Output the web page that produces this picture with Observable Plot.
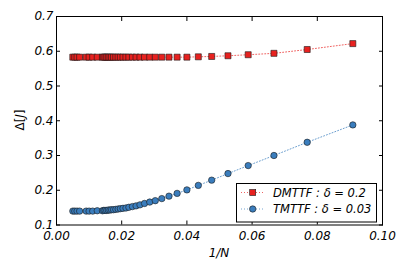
<!DOCTYPE html>
<html><head><meta charset="utf-8">
<script src="https://cdn.jsdelivr.net/npm/d3@7"></script>
<script src="https://cdn.jsdelivr.net/npm/@observablehq/plot@0.6"></script>
<style>body{margin:0;background:#fff}</style>
</head><body><div id="chart"></div>
<script>
// 1/N values (N = 11,13,...,71, 80, 90, 100, 110, 140, 160, 180, 200)
const invN = [0.0909,0.0769,0.0667,0.0588,0.0526,0.0476,0.0435,0.0400,0.0370,0.0345,
  0.0323,0.0303,0.0286,0.0270,0.0256,0.0244,0.0233,0.0222,0.0213,0.0204,
  0.0196,0.0189,0.0182,0.0175,0.0169,0.0164,0.0159,0.0154,0.0149,0.0145,
  0.0141,0.0125,0.0111,0.0100,0.0091,0.0071,0.0063,0.0056,0.0050];
const dmttfGap = [0.622,0.605,0.594,0.590,0.587,0.585,0.584,0.583,0.583,0.583,
  0.583,0.583,0.583,0.583,0.583,0.583,0.583,0.583,0.583,0.583,
  0.583,0.583,0.583,0.583,0.583,0.583,0.583,0.583,0.583,0.583,
  0.583,0.583,0.583,0.583,0.583,0.583,0.583,0.583,0.583];
const tmttfGap = [0.388,0.338,0.300,0.271,0.248,0.229,0.214,0.201,0.191,0.183,
  0.176,0.170,0.166,0.162,0.158,0.155,0.153,0.151,0.149,0.148,
  0.147,0.146,0.145,0.144,0.144,0.143,0.143,0.142,0.142,0.142,
  0.141,0.141,0.140,0.140,0.140,0.140,0.140,0.140,0.140];
const xTicks = [0, 0.02, 0.04, 0.06, 0.08, 0.10];
const yTicks = [0.1, 0.2, 0.3, 0.4, 0.5, 0.6, 0.7];
const seriesLabels = ["DMTTF : δ = 0.2", "TMTTF : δ = 0.03"];
const redFill = "#e8211f", blueFill = "#3a7dbd";

const dm = invN.map((x, i) => ({x, y: dmttfGap[i]})).sort((a, b) => a.x - b.x);
const tm = invN.map((x, i) => ({x, y: tmttfGap[i]})).sort((a, b) => a.x - b.x);

const svg = Plot.plot({
  width: 407, height: 271,
  marginLeft: 56, marginRight: 25, marginTop: 16, marginBottom: 46.5,
  style: {fontFamily: "DejaVu Sans", fontSize: "12px", background: "white", color: "black"},
  x: {domain: [0, 0.1]},
  y: {domain: [0.1, 0.7]},
  marks: [
    Plot.line(tm, {x: "x", y: "y", stroke: blueFill, strokeOpacity: 0.75, strokeDasharray: "1,2", strokeWidth: 1}),
    Plot.line(dm, {x: "x", y: "y", stroke: redFill, strokeOpacity: 0.7, strokeDasharray: "1,2", strokeWidth: 1}),
    Plot.dot(tm, {x: "x", y: "y", r: 3.2, fill: blueFill, stroke: "#1a1a1a", strokeWidth: 0.6}),
    Plot.dot(dm, {x: "x", y: "y", r: 3.4, symbol: "square", fill: redFill, stroke: "#1a1a1a", strokeWidth: 0.6}),
    Plot.axisX(xTicks, {anchor: "bottom", tickSize: -4, tickPadding: 10, tickFormat: d3.format(".2f"), label: null, fontStyle: "italic"}),
    Plot.axisX(xTicks, {anchor: "top", tickSize: -4, tickFormat: () => "", label: null}),
    Plot.axisY(yTicks, {anchor: "left", tickSize: -4, tickPadding: 7, tickFormat: d3.format(".1f"), label: null, fontStyle: "italic"}),
    Plot.axisY(yTicks, {anchor: "right", tickSize: -4, tickFormat: () => "", label: null}),
    Plot.frame({stroke: "black", strokeWidth: 1})
  ]
});

const s = d3.select(svg);
// x label
s.append("text").attr("x", 219).attr("y", 257).attr("text-anchor", "middle")
  .attr("font-style", "italic").attr("font-size", 12).text("1/N");
// y label
const yl = s.append("text").attr("transform", "translate(24,120) rotate(-90)")
  .attr("text-anchor", "middle").attr("font-size", 12);
yl.append("tspan").text("Δ[");
yl.append("tspan").attr("font-style", "italic").text("J");
yl.append("tspan").text("]");
// legend
const lg = s.append("g").attr("text-anchor", "start");
lg.append("rect").attr("x", 236.5).attr("y", 183.5).attr("width", 140).attr("height", 38.5)
  .attr("fill", "white").attr("stroke", "black").attr("stroke-width", 1);
const rows = [{label: seriesLabels[0], color: redFill, sym: "square", y: 192.5},
              {label: seriesLabels[1], color: blueFill, sym: "circle", y: 209}];
for (const r of rows) {
  lg.append("line").attr("x1", 241).attr("x2", 264).attr("y1", r.y).attr("y2", r.y)
    .attr("stroke", r.color).attr("stroke-opacity", 0.7).attr("stroke-dasharray", "1,2");
  if (r.sym === "square") {
    lg.append("rect").attr("x", 252.7 - 3).attr("y", r.y - 3).attr("width", 6).attr("height", 6)
      .attr("fill", r.color).attr("stroke", "#1a1a1a").attr("stroke-width", 0.6);
  } else {
    lg.append("circle").attr("cx", 252.7).attr("cy", r.y).attr("r", 3.2)
      .attr("fill", r.color).attr("stroke", "#1a1a1a").attr("stroke-width", 0.6);
  }
  lg.append("text").attr("x", 273).attr("y", r.y).attr("dy", "0.35em").attr("text-anchor", "start")
    .attr("font-style", "italic").attr("font-size", 11.5).text(r.label);
}
document.getElementById("chart").appendChild(svg);
</script>
</body></html>
